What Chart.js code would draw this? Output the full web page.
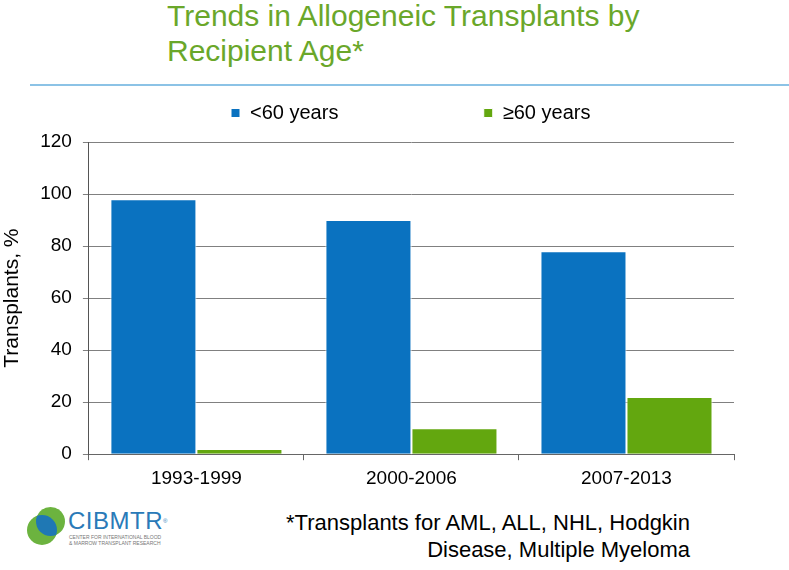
<!DOCTYPE html>
<html>
<head>
<meta charset="utf-8">
<script src="https://cdn.jsdelivr.net/npm/chart.js@4/dist/chart.umd.min.js"></script>
<style>
  body { margin: 0; background: #fff; font-family: "Liberation Sans", Arial, sans-serif; }
  #page { position: relative; width: 789px; height: 570px; overflow: hidden; }
  #title { position: absolute; left: 167px; top: -2px; color: #6aa72a; font-size: 30px; line-height: 35px; white-space: nowrap; }
  #rule { position: absolute; left: 30px; top: 84px; width: 759px; height: 2px; background: #8cc3e6; }
  #wrap { position: absolute; left: 0; top: 91px; width: 789px; height: 408px; }
  #note { position: absolute; right: 99px; top: 509px; font-size: 22px; line-height: 27px; text-align: right; color: #000; white-space: nowrap; }
  #logo { position: absolute; left: 27px; top: 505px; width: 170px; height: 45px; }
  .c1 { position: absolute; left: 0; top: 10px; width: 30px; height: 30px; border-radius: 50%; background: #6cb33f; }
  .c2 { position: absolute; left: 9px; top: 2px; width: 29px; height: 29px; border-radius: 50%; background: #6cb33f; overflow: hidden; }
  .c2 .lens { position: absolute; left: -9px; top: 8px; width: 30px; height: 30px; border-radius: 50%; background: #1f78b4; }
  .name { position: absolute; left: 41px; top: 3px; color: #2a7ab8; font-size: 24px; line-height: 26px; letter-spacing: 0.5px; }
  .name sup { font-size: 6px; vertical-align: top; }
  .sub { position: absolute; left: 42px; top: 29px; color: #777; font-size: 5px; line-height: 6px; white-space: nowrap; }
</style>
</head>
<body>
<div id="page">
  <div id="title">Trends in Allogeneic Transplants by<br>Recipient Age*</div>
  <div id="rule"></div>
  <div id="wrap"><canvas id="chart"></canvas></div>
  <div id="logo">
    <div class="c1"></div><div class="c2"><div class="lens"></div></div>
    <div class="name">CIBMTR<sup>®</sup></div>
    <div class="sub">CENTER FOR INTERNATIONAL BLOOD<br>&amp; MARROW TRANSPLANT RESEARCH</div>
  </div>
  <div id="note">*Transplants for AML, ALL, NHL, Hodgkin<br>Disease, Multiple Myeloma</div>
</div>
<script>
const categories = ["1993-1999", "2000-2006", "2007-2013"];
const under60 = [98, 90, 78];
const over60 = [2, 10, 22];
const seriesNames = ["<60 years", "\u226560 years"];
const yTicks = [0, 20, 40, 60, 80, 100, 120];

// legend sits right of centre in the original, with a wide gap between the two items
// and more room below it than chart.js gives by default
const legendShift = {
  id: "legendShift",
  beforeLayout(chart) {
    const lg = chart.legend;
    if (lg && !lg._fitPatched) {
      const fit = lg.fit;
      lg.fit = function () { fit.call(this); this.height += 9; };
      lg._fitPatched = true;
    }
  },
  afterLayout(chart) {
    if (!chart.legend) return;
    chart.legend.left = 219;
    chart.legend.right = 789;
  },
};

const ctx = document.getElementById("chart").getContext("2d");
const data = {
  labels: categories,
  datasets: [
    {
      label: seriesNames[0],
      data: under60,
      backgroundColor: "#0a72c0",
      borderColor: "#ffffff",
      borderWidth: 1,
      categoryPercentage: 0.8,
      barPercentage: 1.0,
    },
    {
      label: seriesNames[1],
      data: over60,
      backgroundColor: "#63a70f",
      borderColor: "#ffffff",
      borderWidth: 1,
      categoryPercentage: 0.8,
      barPercentage: 1.0,
    },
  ],
};
const config = {
  type: "bar",
  data: data,
  plugins: [legendShift],
  options: {
    responsive: true,
    maintainAspectRatio: false,
    animation: false,
    layout: { padding: { left: 0, right: 55, top: 0, bottom: 2 } },
    plugins: {
      legend: {
        position: "top",
        align: "start",
        labels: {
          color: "#000",
          font: { family: "Liberation Sans", size: 20 },
          boxWidth: 9,
          boxHeight: 9,
          padding: 12,
          generateLabels: (chart) => {
            const items = Chart.defaults.plugins.legend.labels.generateLabels(chart);
            items[0].text = items[0].text + "\u00a0".repeat(24);
            return items;
          },
        },
      },
      tooltip: { enabled: false },
    },
    scales: {
      x: {
        grid: { offset: true, drawOnChartArea: false, drawTicks: true, tickLength: 6, color: "#666" },
        border: { color: "#666" },
        ticks: { color: "#000", font: { family: "Liberation Sans", size: 19 }, padding: 7 },
      },
      y: {
        min: 0,
        max: 120,
        afterBuildTicks: (axis) => { axis.ticks = yTicks.map((v) => ({ value: v })); },
        grid: { color: "#808080", tickLength: 6 },
        border: { color: "#555" },
        ticks: { color: "#000", font: { family: "Liberation Sans", size: 19 }, padding: 11 },
        title: { display: true, text: "Transplants, %", color: "#000", font: { family: "Liberation Sans", size: 21 }, padding: { top: 0, bottom: 4 } },
      },
    },
  },
};
const chart = new Chart(ctx, config);
</script>
</body>
</html>
